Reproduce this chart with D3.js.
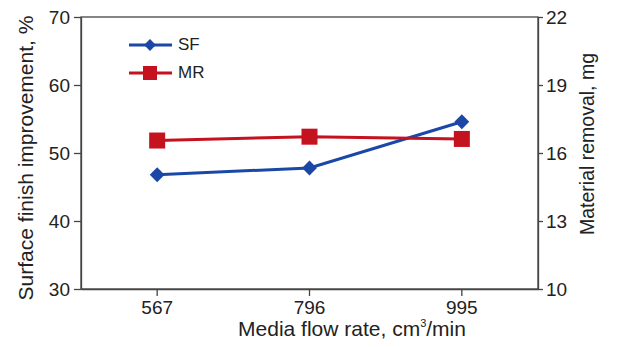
<!DOCTYPE html>
<html>
<head>
<meta charset="utf-8">
<script src="https://cdn.jsdelivr.net/npm/d3@7"></script>
<style>
  body { margin: 0; background: #fff; }
  svg text { font-family: "Liberation Sans", Arial, sans-serif; fill: #222; }
</style>
</head>
<body>
<div id="chart"></div>
<script>
const flowRates = ['567', '796', '995']
const sfValues = [46.8, 47.8, 54.6]
const mrValues = [16.55, 16.72, 16.62]
const leftTicks = [30, 40, 50, 60, 70]
const rightTicks = [10, 13, 16, 19, 22]

const width = 617
const height = 347
const margin = { top: 17, right: 79, bottom: 58, left: 81 }
const blue = '#1b48a6'
const red = '#c4121f'
const axisColour = '#444'

const svg = d3.select('#chart').append('svg')
  .attr('width', width)
  .attr('height', height)

const x = d3.scaleBand()
  .domain(flowRates)
  .range([margin.left, width - margin.right])

const yL = d3.scaleLinear().domain([30, 70]).range([height - margin.bottom, margin.top])
const yR = d3.scaleLinear().domain([10, 22]).range([height - margin.bottom, margin.top])

// Frame
svg.append('rect')
  .attr('x', margin.left)
  .attr('y', margin.top)
  .attr('width', width - margin.left - margin.right)
  .attr('height', height - margin.top - margin.bottom)
  .attr('fill', 'none')
  .attr('stroke', axisColour)
  .attr('stroke-width', 1.3)

function styleAxis(g) {
  g.select('.domain').attr('stroke', axisColour).attr('stroke-width', 1.3)
  g.selectAll('.tick line').attr('stroke', axisColour).attr('stroke-width', 1.3)
  g.selectAll('.tick text')
    .style('font-family', '"Liberation Sans", Arial, sans-serif')
    .style('font-size', '19px')
    .attr('fill', '#222')
}

svg.append('g')
  .attr('transform', `translate(0,${height - margin.bottom})`)
  .call(d3.axisBottom(x).tickSize(7).tickPadding(5).tickSizeOuter(0))
  .call(styleAxis)

svg.append('g')
  .attr('transform', `translate(${margin.left},0)`)
  .call(d3.axisLeft(yL).tickValues(leftTicks).tickSize(7).tickPadding(4).tickSizeOuter(0))
  .call(styleAxis)

svg.append('g')
  .attr('transform', `translate(${width - margin.right},0)`)
  .call(d3.axisRight(yR).tickValues(rightTicks).tickSize(5).tickPadding(3).tickSizeOuter(0))
  .call(styleAxis)

// Axis titles
svg.append('text')
  .attr('transform', `translate(27,158) rotate(-90)`)
  .attr('text-anchor', 'middle')
  .attr('dominant-baseline', 'middle')
  .style('font-size', '21px')
  .text('Surface finish improvement, %')

svg.append('text')
  .attr('transform', `translate(589,144) rotate(-90)`)
  .attr('text-anchor', 'middle')
  .attr('dominant-baseline', 'middle')
  .style('font-size', '19.5px')
  .text('Material removal, mg')

const xTitle = svg.append('text')
  .attr('x', 352)
  .attr('y', 336)
  .attr('text-anchor', 'middle')
  .style('font-size', '21px')
xTitle.append('tspan').text('Media flow rate, cm')
xTitle.append('tspan').attr('dy', -9).style('font-size', '11px').text('3')
xTitle.append('tspan').attr('dy', 9).text('/min')

const cx = d => x(d) + x.bandwidth() / 2

// SF series (left axis)
const sfData = flowRates.map((f, i) => ({ f, v: sfValues[i] }))
svg.append('path')
  .datum(sfData)
  .attr('fill', 'none')
  .attr('stroke', blue)
  .attr('stroke-width', 3)
  .attr('d', d3.line().x(d => cx(d.f)).y(d => yL(d.v)))

svg.selectAll('.sf-pt')
  .data(sfData)
  .join('path')
  .attr('class', 'sf-pt')
  .attr('transform', d => `translate(${cx(d.f)},${yL(d.v)}) rotate(45)`)
  .attr('d', d3.symbol(d3.symbolSquare, 110)())
  .attr('fill', blue)

// MR series (right axis)
const mrData = flowRates.map((f, i) => ({ f, v: mrValues[i] }))
svg.append('path')
  .datum(mrData)
  .attr('fill', 'none')
  .attr('stroke', red)
  .attr('stroke-width', 3)
  .attr('d', d3.line().x(d => cx(d.f)).y(d => yR(d.v)))

svg.selectAll('.mr-pt')
  .data(mrData)
  .join('rect')
  .attr('class', 'mr-pt')
  .attr('x', d => cx(d.f) - 8)
  .attr('y', d => yR(d.v) - 8)
  .attr('width', 16)
  .attr('height', 16)
  .attr('fill', red)

// Legend
const legend = [
  { name: 'SF', colour: blue, y: 45 },
  { name: 'MR', colour: red, y: 73 }
]
legend.forEach(l => {
  svg.append('line')
    .attr('x1', 129).attr('x2', 172)
    .attr('y1', l.y).attr('y2', l.y)
    .attr('stroke', l.colour)
    .attr('stroke-width', 3)
  if (l.name === 'SF') {
    svg.append('path')
      .attr('transform', `translate(150,${l.y}) rotate(45)`)
      .attr('d', d3.symbol(d3.symbolSquare, 70)())
      .attr('fill', l.colour)
  } else {
    svg.append('rect')
      .attr('x', 143).attr('y', l.y - 7)
      .attr('width', 14).attr('height', 14)
      .attr('fill', l.colour)
  }
  svg.append('text')
    .attr('x', 178)
    .attr('y', l.y + 1)
    .attr('dominant-baseline', 'middle')
    .style('font-size', '17px')
    .text(l.name)
})
</script>
</body>
</html>
